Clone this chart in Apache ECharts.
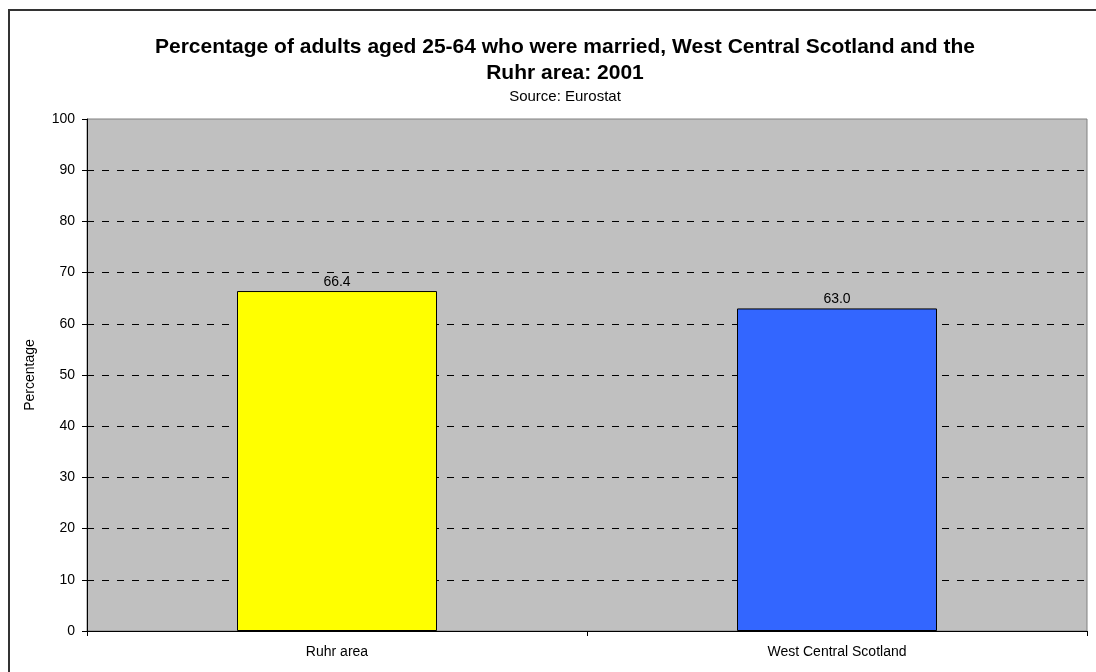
<!DOCTYPE html>
<html>
<head>
<meta charset="utf-8">
<script src="https://cdn.jsdelivr.net/npm/echarts@6/dist/echarts.min.js"></script>
<style>
body { margin: 0; background: #fff; }
#frame { position: absolute; left: 8px; top: 9px; width: 1100px; height: 680px; border: 2px solid #333; box-sizing: border-box; }
#chart { position: absolute; left: 0; top: 0; width: 1096px; height: 672px; }
</style>
</head>
<body>
<div id="frame"></div>
<div id="chart"></div>
<script>
// categories and values
var categories = ['Ruhr area', 'West Central Scotland'];
var married = [66.4, 63.0];
var barColours = ['#FFFF00', '#3366FF'];

var chart = echarts.init(document.getElementById('chart'));
var option = {
	animation: false,
	textStyle: { fontFamily: 'Liberation Sans, Arial, sans-serif' },
	title: {
		text: 'Percentage of adults aged 25-64 who were married, West Central Scotland and the\nRuhr area: 2001',
		subtext: 'Source: Eurostat',
		left: 560,
		top: 29,
		textAlign: 'center',
		itemGap: 2,
		textStyle: { fontSize: 21, fontWeight: 'bold', color: '#000', lineHeight: 26, fontFamily: 'Liberation Sans, Arial' },
		subtextStyle: { fontSize: 15, color: '#000', lineHeight: 17, fontFamily: 'Liberation Sans, Arial' }
	},
	grid: {
		left: 87,
		right: 9,
		top: 119,
		bottom: 41,
		show: true,
		backgroundColor: '#C0C0C0',
		borderColor: '#808080',
		borderWidth: 1
	},
	xAxis: {
		type: 'category',
		data: categories,
		axisLine: { lineStyle: { color: '#000', width: 1 } },
		axisTick: { show: true, length: 5, lineStyle: { color: '#000' } },
		axisLabel: { color: '#000', fontSize: 14, margin: 14 }
	},
	yAxis: {
		type: 'value',
		min: 0,
		max: 100,
		interval: 10,
		name: 'Percentage',
		nameLocation: 'middle',
		nameRotate: 90,
		nameGap: 50,
		nameTextStyle: { color: '#000', fontSize: 14 },
		axisLine: { show: true, lineStyle: { color: '#000', width: 1 } },
		axisTick: { show: true, length: 5, lineStyle: { color: '#000' } },
		axisLabel: { color: '#000', fontSize: 14, margin: 12 },
		splitLine: { show: true, showMinLine: false, showMaxLine: false, lineStyle: { color: '#000', type: [7, 8], width: 1 } }
	},
	series: [{
		type: 'bar',
		data: married.map(function (v, i) {
			return { value: v, itemStyle: { color: barColours[i] } };
		}),
		barWidth: '40%',
		itemStyle: { borderColor: '#000', borderWidth: 1 },
		label: {
			show: true,
			position: 'top',
			distance: 2,
			color: '#000',
			fontSize: 14,
			formatter: function (p) { return p.value.toFixed(1); }
		}
	}]
};
chart.setOption(option);
</script>
</body>
</html>
